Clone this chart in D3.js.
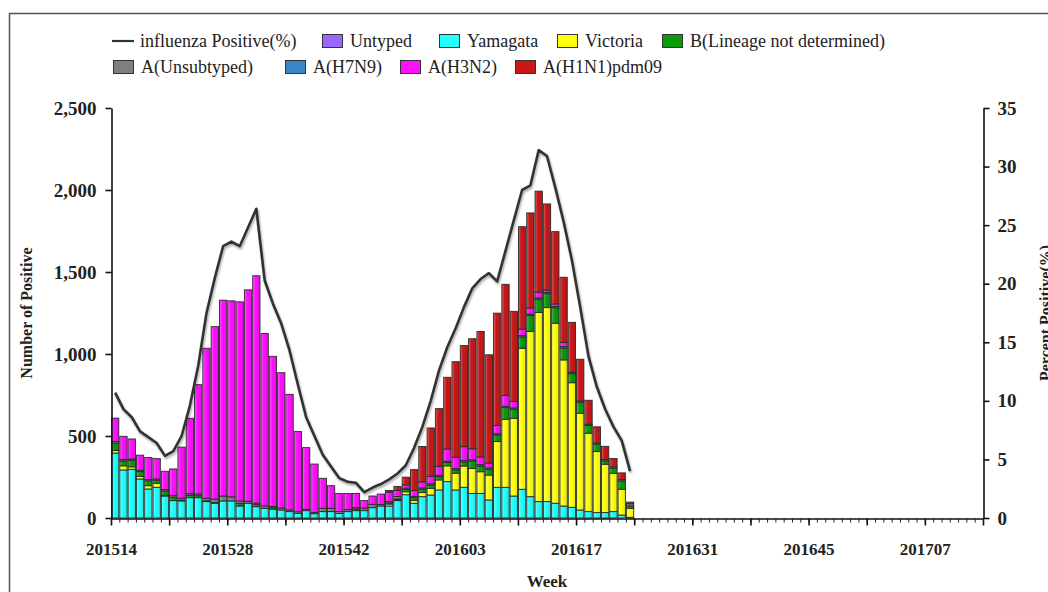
<!DOCTYPE html>
<html><head><meta charset="utf-8">
<script src="https://cdn.jsdelivr.net/npm/d3@7"></script>
<style>
html,body{margin:0;padding:0;background:#fff;}
svg{display:block;}
</style></head>
<body>
<svg id="c" width="1048" height="592"></svg>
<script>
// ---- categories (x axis) ----
const allWeeks = ("201514 201515 201516 201517 201518 201519 201520 201521 201522 201523 201524 201525 201526 201527 201528 201529 201530 201531 201532 201533 " +
"201534 201535 201536 201537 201538 201539 201540 201541 201542 201543 201544 201545 201546 201547 201548 201549 201550 201551 201552 201553 " +
"201601 201602 201603 201604 201605 201606 201607 201608 201609 201610 201611 201612 201613 201614 201615 201616 201617 201618 201619 201620 " +
"201621 201622 201623 201624 201625 201626 201627 201628 201629 201630 201631 201632 201633 201634 201635 201636 201637 201638 201639 201640 " +
"201641 201642 201643 201644 201645 201646 201647 201648 201649 201650 201651 201652 201701 201702 201703 201704 201705 201706 201707 201708 " +
"201709 201710 201711 201712 201713").split(" ");
const dataWeeks = allWeeks.slice(0, 63);
const xTickLabels = ["201514","201528","201542","201603","201617","201631","201645","201707"];
const yLeftTicks = [0, 500, 1000, 1500, 2000, 2500];
const yRightTicks = [0, 5, 10, 15, 20, 25, 30, 35];

// ---- series values (per week, 201514 .. 201623) ----
const yamagata = [396,293,297,238,177,187,134,106,104,124,124,100,90,104,104,73,90,69,59,53,
  49,39,28,45,26,39,39,28,39,45,45,63,73,73,106,142,90,130,140,171,
  222,171,187,150,150,110,187,187,134,175,130,100,100,90,73,65,49,39,33,33,
  39,18,4];
const victoria = [15,25,15,15,20,25,5,0,0,0,0,0,0,0,0,0,0,0,0,0,
  0,0,0,0,0,0,0,0,0,0,0,0,0,12,5,18,18,25,41,61,
  96,102,130,152,132,152,279,415,474,860,1007,1153,1183,1098,891,760,590,478,372,295,
  234,157,55];
const bLineage = [45,30,40,30,30,18,26,20,5,14,12,5,5,0,0,15,0,14,0,10,
  0,0,0,0,0,0,0,0,0,10,0,0,0,8,5,14,16,20,20,20,
  20,20,25,45,35,35,40,71,55,69,98,81,85,94,73,55,67,47,45,20,
  31,51,14];
const untyped = [0,0,0,0,0,0,0,0,0,0,0,0,0,0,0,0,0,0,0,0,
  0,0,0,0,0,0,0,0,0,0,0,0,0,0,0,0,0,0,0,0,
  0,0,0,0,0,0,0,0,0,0,0,0,0,0,0,0,0,0,0,0,
  0,0,0];
const aUnsub = [10,8,8,8,8,8,8,10,12,10,10,15,20,30,25,15,12,8,15,8,
  12,10,10,8,8,20,20,12,12,8,15,20,10,8,15,8,8,8,8,8,
  8,8,8,8,8,8,8,8,8,8,8,8,8,8,8,8,8,8,8,8,
  8,8,14];
const h7n9 = [0,0,0,0,0,0,0,0,0,0,0,0,0,0,0,0,0,0,0,0,
  0,0,0,0,0,0,0,0,0,0,0,0,0,0,0,0,0,0,0,0,
  0,0,0,0,0,0,0,0,0,0,0,0,0,0,0,0,0,0,0,0,
  0,0,0];
const h3n2 = [143,142,122,92,134,124,112,163,311,460,667,915,1052,1194,1195,1215,1289,1386,1051,915,
  825,705,489,376,295,183,138,110,99,87,46,51,63,57,37,20,35,37,45,55,
  75,70,85,67,47,30,50,67,40,40,37,35,14,15,25,0,0,0,0,0,
  0,0,0];
const h1n1 = [0,0,0,0,0,0,0,0,0,0,0,0,0,0,0,0,0,0,0,0,
  0,0,0,0,0,0,0,0,0,0,0,0,0,10,24,47,128,216,295,352,
  437,582,616,671,765,660,685,677,549,624,580,616,525,441,398,305,254,146,98,81,
  51,41,10];
const pctPositive = [10.7,9.3,8.6,7.4,6.9,6.4,5.3,5.7,7.0,9.6,13.0,17.5,20.5,23.2,23.6,23.2,24.8,26.4,20.3,18.3,
  16.6,14.3,11.4,8.6,7.0,5.4,4.4,3.4,3.1,3.0,2.2,2.6,2.9,3.3,3.8,4.5,6.0,7.8,10.0,12.6,
  14.6,16.2,18.0,19.6,20.4,20.9,20.2,22.8,25.4,28.0,28.4,31.4,30.9,28.2,25.3,22.0,18.0,13.8,11.2,9.3,
  7.8,6.6,4.0];

// stacking order bottom -> top
const stackNames = ["Yamagata","Victoria","B(Lineage not determined)","Untyped","A(Unsubtyped)","A(H7N9)","A(H3N2)","A(H1N1)pdm09"];
const stackValues = [yamagata, victoria, bLineage, untyped, aUnsub, h7n9, h3n2, h1n1];
const colors = {
  "Untyped":"#9966ff","Yamagata":"#22ffff","Victoria":"#ffff10","B(Lineage not determined)":"#0a9a0a",
  "A(Unsubtyped)":"#7f7f7f","A(H7N9)":"#3a86c8","A(H3N2)":"#ff10ff","A(H1N1)pdm09":"#c81818"
};
const SERIF = "'Liberation Serif', 'Times New Roman', serif";

const svg = d3.select("#c");
const defs = svg.append("defs");
Object.entries(colors).forEach(([k,c],i)=>{
  const g = defs.append("linearGradient").attr("id","g"+i).attr("x1","0").attr("x2","1").attr("y1","0").attr("y2","0");
  const cc = d3.color(c);
  g.append("stop").attr("offset","0%").attr("stop-color", d3.interpolateRgb(c,"#ffffff")(0.35));
  g.append("stop").attr("offset","35%").attr("stop-color", c);
  g.append("stop").attr("offset","100%").attr("stop-color", cc.darker(0.25));
});
const gradId = {}; Object.keys(colors).forEach((k,i)=>gradId[k]="url(#g"+i+")");
const flt = defs.append("filter").attr("id","sh").attr("x","-5%").attr("y","-5%").attr("width","110%").attr("height","110%");
flt.append("feGaussianBlur").attr("in","SourceAlpha").attr("stdDeviation",1.2).attr("result","b");
flt.append("feOffset").attr("in","b").attr("dx",1).attr("dy",1.5).attr("result","o");
flt.append("feComponentTransfer").attr("in","o").attr("result","o2").append("feFuncA").attr("type","linear").attr("slope",0.35);
const fm = flt.append("feMerge"); fm.append("feMergeNode").attr("in","o2"); fm.append("feMergeNode").attr("in","SourceGraphic");

// frame
svg.append("path").attr("d","M9.5,592 V13.5 H1048").attr("fill","none").attr("stroke","#555").attr("stroke-width",1.5);

// scales
const x = d3.scaleBand().domain(allWeeks).range([111, 983]).paddingInner(0).paddingOuter(0);
const xi = d3.scaleLinear().domain([0, allWeeks.length]).range([111, 983]);
const yL = d3.scaleLinear().domain([0, 2500]).range([518, 108]);
const yR = d3.scaleLinear().domain([0, 35]).range([518, 108]);

// stacked data
const table = dataWeeks.map((w,i)=>{ const o={week:w}; stackNames.forEach((n,j)=>o[n]=stackValues[j][i]); return o; });
const series = d3.stack().keys(stackNames)(table);

const bw = x.bandwidth();
const gBars = svg.append("g");
series.forEach(s=>{
  gBars.append("g").selectAll("rect").data(s.filter(d=>d[1]-d[0]>0)).join("rect")
    .attr("x", d=>x(d.data.week)+0.5)
    .attr("width", bw-1)
    .attr("y", d=>yL(d[1]))
    .attr("height", d=>yL(d[0])-yL(d[1]))
    .attr("fill", gradId[s.key])
    .attr("stroke","#2a2a2a").attr("stroke-width",0.9);
});

// line
const line = d3.line().x((d,i)=>x(dataWeeks[i])+bw/2).y(d=>yR(d));
svg.append("path").datum(pctPositive).attr("d",line).attr("fill","none")
  .attr("stroke","#333").attr("stroke-width",2.6).attr("stroke-linejoin","round").attr("filter","url(#sh)");

// axes
const fontAxis = size => g=>g.selectAll("text").attr("font-family",SERIF).attr("font-weight","bold").attr("font-size",size).attr("fill","#222");
const left = svg.append("g").attr("transform","translate(111.5,0)")
  .call(d3.axisLeft(yL).tickValues(yLeftTicks).tickFormat(d3.format(",")).tickSize(6).tickSizeOuter(0).tickPadding(9));
left.call(fontAxis(19)); left.selectAll("path,line").attr("stroke","#111").attr("stroke-width",1.6);
const right = svg.append("g").attr("transform","translate(983.5,0)")
  .call(d3.axisRight(yR).tickValues(yRightTicks).tickSize(6).tickSizeOuter(0).tickPadding(8));
right.call(fontAxis(19)); right.selectAll("path,line").attr("stroke","#111").attr("stroke-width",1.6);

const minor = svg.append("g").attr("transform","translate(0,518.5)")
  .call(d3.axisBottom(xi).tickValues(d3.range(0, allWeeks.length+1)).tickSize(4).tickSizeOuter(0).tickFormat(""));
minor.selectAll("path,line").attr("stroke","#222").attr("stroke-width",1);
minor.select("path").attr("stroke-width",1.6).attr("stroke","#111");
const majorIdx = d3.range(0, allWeeks.length+1, 7);
const major = svg.append("g").attr("transform","translate(0,518.5)")
  .call(d3.axisBottom(xi).tickValues(majorIdx).tickSize(7).tickSizeOuter(0).tickPadding(17)
     .tickFormat(i=>{ const w = allWeeks[i]; return (w && xTickLabels.includes(w)) ? w : ""; }));
major.select("path").remove();
major.selectAll("line").attr("stroke","#111").attr("stroke-width",1.6);
major.call(fontAxis(17));

// axis titles
svg.append("text").attr("transform","translate(32,313) rotate(-90)").attr("text-anchor","middle")
  .attr("font-family",SERIF).attr("fill","#222")
  .attr("font-weight","bold").attr("font-size",16).text("Number of Positive");
svg.append("text").attr("transform","translate(1051,313) rotate(-90)").attr("text-anchor","middle")
  .attr("font-family",SERIF).attr("fill","#222")
  .attr("font-weight","bold").attr("font-size",16).text("Percent Positive(%)");
svg.append("text").attr("x",547).attr("y",587).attr("text-anchor","middle")
  .attr("font-family",SERIF).attr("fill","#222")
  .attr("font-weight","bold").attr("font-size",17).text("Week");

// legend
const legendRow1 = [["line","influenza Positive(%)",112],["box","Untyped",322],["box","Yamagata",439],["box","Victoria",557],["box","B(Lineage not determined)",662]];
const legendRow2 = [["box","A(Unsubtyped)",113],["box","A(H7N9)",285],["box","A(H3N2)",400],["box","A(H1N1)pdm09",515]];
const lg = svg.append("g");
[[legendRow1,41],[legendRow2,67]].forEach(([row,cy])=>{
  row.forEach(([type,name,lx])=>{
    if(type==="line"){
      lg.append("line").attr("x1",lx).attr("x2",lx+22).attr("y1",cy).attr("y2",cy).attr("stroke","#333").attr("stroke-width",2.2);
    } else {
      lg.append("rect").attr("x",lx+0.5).attr("y",cy-6.5).attr("width",20).attr("height",13)
        .attr("fill",colors[name]).attr("stroke","#333").attr("stroke-width",1);
    }
    lg.append("text").attr("x",lx+28).attr("y",cy+6).attr("font-family",SERIF).attr("fill","#222")
      .attr("font-size",18).text(name);
  });
});
</script>
</body></html>
